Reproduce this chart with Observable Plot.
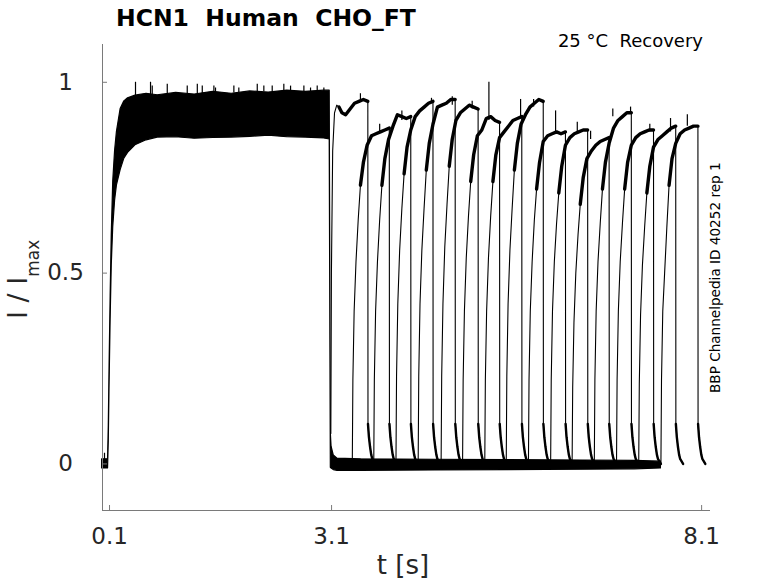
<!DOCTYPE html>
<html>
<head>
<meta charset="utf-8">
<script src="https://cdn.jsdelivr.net/npm/d3@7"></script>
<script src="https://cdn.jsdelivr.net/npm/@observablehq/plot@0.6"></script>
<style>
  html, body { margin: 0; padding: 0; background: #fff; overflow: hidden; }
  svg text { font-family: "DejaVu Sans", sans-serif; }
</style>
</head>
<body>
<div id="chart"></div>
<script>
// ---------------- data ----------------
const xTicks = [0.1, 3.1, 8.1];
const xTickLabels = ["0.1", "3.1", "8.1"];
const yTicks = [0, 0.5, 1];
const yTickLabels = ["0", "0.5", "1"];
const xDomain = [0.005, 8.22];
const yDomain = [-0.122, 1.099];

// envelope of the 16 overlapping sweeps: pre-pulse activation band + baseline band
const envT  = [0.0,   0.08,  0.09, 0.1,  0.115, 0.13, 0.15, 0.175, 0.2,  0.25,  0.3,  0.35,  0.45,  0.6,   0.75,  1.0,   1.25,  1.5,   1.75,  2.0,   2.25,  2.5,   2.75,  3.0,   3.075, 3.09,  3.1,   3.13,  3.18,  3.5,   4.5,   5.5,   6.5,   7.2,   7.55];
const envLo = [-0.012,-0.012, 0.06, 0.2,  0.38,  0.52, 0.62, 0.69,  0.73, 0.77,  0.80, 0.815, 0.835, 0.848, 0.855, 0.856, 0.852, 0.854, 0.855, 0.857, 0.86,  0.856, 0.855, 0.853, 0.85,  -0.01, -0.012,-0.016,-0.018,-0.018,-0.017,-0.016,-0.015,-0.014,-0.012];
const envHi = [0.012, 0.012, 0.1,  0.25, 0.44,  0.6,  0.74, 0.82,  0.87, 0.93,  0.95, 0.958, 0.965, 0.97,  0.966, 0.972, 0.968, 0.975, 0.97,  0.976, 0.973, 0.978, 0.975, 0.978, 0.978, 0.08,  0.045, 0.022, 0.014, 0.012, 0.011, 0.010, 0.009, 0.008, 0.006];

// noise spikes on top of the pre-pulse band
const preSpikeT    = [0.032, 0.451, 0.654, 0.677, 0.88, 1.15, 1.286, 1.353, 1.51, 1.532, 1.78, 1.847, 2.096, 2.185, 2.298, 2.455, 2.546, 2.726, 2.816, 2.906, 2.996];
const preSpikeBase = [0.0,   0.96,  0.965, 0.965, 0.97, 0.97, 0.97,  0.97,  0.972,0.972, 0.972,0.972, 0.975, 0.975, 0.975, 0.975, 0.975, 0.975, 0.975, 0.975, 0.975];
const preSpikePeak = [0.028, 1.0,   1.0,   0.99,  0.995,0.99, 0.995, 0.99,  0.99, 0.985, 0.99, 0.985, 0.995, 0.99,  0.99,  0.995, 0.99,  0.99,  0.985, 0.99,  0.985];

// recovery test pulses: onset of each sweep (s), fixed pulse length
const onsets = [3.09, 3.38, 3.67, 3.97, 4.27, 4.58, 4.87, 5.17, 5.46, 5.76, 6.06, 6.35, 6.65, 6.95, 7.25, 7.55];
const pulseDur = 0.5;
// sampling times after onset and the normalised current of each sweep at those times
const riseDt = [0, 0.008, 0.025, 0.05, 0.08, 0.11, 0.15, 0.2, 0.26, 0.32, 0.38, 0.44, 0.5];
const sweepI = [
  [0.08, 0.5,  0.82, 0.92, 0.94, 0.935, 0.92, 0.915, 0.93,  0.945, 0.95,  0.955, 0.95],
  [0,    0.22, 0.4,  0.53, 0.64, 0.73,  0.79, 0.835, 0.86,  0.865, 0.87,  0.875, 0.88],
  [0,    0.22, 0.4,  0.53, 0.64, 0.73,  0.8,  0.85,  0.885, 0.915, 0.91,  0.905, 0.91],
  [0,    0.23, 0.42, 0.56, 0.67, 0.76,  0.83, 0.875, 0.91,  0.925, 0.935, 0.945, 0.95],
  [0,    0.23, 0.42, 0.56, 0.67, 0.77,  0.84, 0.89,  0.935, 0.94,  0.945, 0.955, 0.955],
  [0,    0.23, 0.42, 0.57, 0.68, 0.78,  0.85, 0.9,   0.92,  0.93,  0.94,  0.935, 0.93],
  [0,    0.22, 0.4,  0.54, 0.65, 0.74,  0.81, 0.86,  0.875, 0.905, 0.91,  0.9,   0.895],
  [0,    0.22, 0.4,  0.54, 0.65, 0.74,  0.81, 0.855, 0.87,  0.885, 0.9,   0.905, 0.91],
  [0,    0.23, 0.42, 0.56, 0.67, 0.77,  0.84, 0.89,  0.915, 0.935, 0.945, 0.955, 0.95],
  [0,    0.22, 0.4,  0.53, 0.64, 0.72,  0.79, 0.845, 0.86,  0.865, 0.87,  0.865, 0.87],
  [0,    0.22, 0.4,  0.53, 0.63, 0.71,  0.78, 0.835, 0.855, 0.865, 0.87,  0.875, 0.875],
  [0,    0.2,  0.37, 0.5,  0.6,  0.68,  0.75, 0.8,   0.82,  0.835, 0.845, 0.85,  0.855],
  [0,    0.22, 0.4,  0.53, 0.63, 0.72,  0.79, 0.84,  0.88,  0.9,   0.91,  0.92,  0.92],
  [0,    0.22, 0.4,  0.53, 0.63, 0.72,  0.79, 0.835, 0.855, 0.865, 0.87,  0.875, 0.875],
  [0,    0.21, 0.39, 0.52, 0.62, 0.71,  0.78, 0.83,  0.85,  0.86,  0.87,  0.88,  0.885],
  [0,    0.22, 0.4,  0.5,  0.62, 0.73,  0.8,  0.84,  0.865, 0.875, 0.88,  0.885, 0.885]
];
// deactivation tail after the end of each test pulse
const tailDt = [0.002, 0.015, 0.03, 0.045, 0.06, 0.1];
const tailI  = [0.105, 0.07,  0.045, 0.025, 0.013, 0.0];

// noise spikes on the test-pulse plateaus
const testSpikeT    = [3.49, 3.75, 4.05, 4.45, 4.731, 5.0, 5.226, 5.654, 5.83, 6.127, 6.42, 6.6, 6.9, 7.14, 7.4, 7.68, 7.907];
const testSpikeBase = [0.95, 0.87, 0.9, 0.945, 0.94, 0.93, 0.9,   0.91,  0.935, 0.866, 0.87, 0.85, 0.91, 0.92, 0.87, 0.87, 0.885];
const testSpikePeak = [0.97, 0.89, 0.925, 0.958, 0.962, 0.95, 1.0,  0.955, 0.955, 0.925, 0.895, 0.872, 0.93, 0.935, 0.89, 0.905, 0.915];

// ---------------- tables built from the arrays ----------------
const envelope = envT.map((t, i) => ({t, lo: envLo[i], hi: envHi[i]}));
const spikes = preSpikeT.map((t, i) => ({t, base: preSpikeBase[i], peak: preSpikePeak[i]}))
  .concat(testSpikeT.map((t, i) => ({t, base: testSpikeBase[i], peak: testSpikePeak[i]})));

const full = [], plateau = [], tail = [];
onsets.forEach((t0, k) => {
  riseDt.forEach((d, i) => {
    const p = {k, t: t0 + d, I: sweepI[k][i]};
    full.push(p);
    if (d >= 0.11) plateau.push(p);
  });
  const tEnd = t0 + pulseDur;
  tailDt.forEach((d, i) => {
    const p = {k, t: tEnd + d, I: tailI[i]};
    full.push(p);
    tail.push(p);
  });
});

// ---------------- chart ----------------
const W = 778, H = 583;
const mL = 102, mR = 68, mT = 44, mB = 73;

const plot = Plot.plot({
  width: W,
  height: H,
  marginLeft: mL,
  marginRight: mR,
  marginTop: mT,
  marginBottom: mB,
  style: {fontFamily: "DejaVu Sans", fontSize: "23px", background: "#fff", overflow: "visible"},
  x: {domain: xDomain, label: null},
  y: {domain: yDomain, label: null},
  marks: [
    Plot.areaY(envelope, {x: "t", y1: "lo", y2: "hi", fill: "black", stroke: "black", strokeWidth: 1.2, curve: "linear"}),
    Plot.ruleX(spikes, {x: "t", y1: "base", y2: "peak", stroke: "black", strokeWidth: 1.2}),
    Plot.line(full, {x: "t", y: "I", z: "k", stroke: "black", strokeWidth: 1.1, curve: "linear"}),
    Plot.line(plateau, {x: "t", y: "I", z: "k", stroke: "black", strokeWidth: 3.4, curve: "linear"}),
    Plot.line(tail, {x: "t", y: "I", z: "k", stroke: "black", strokeWidth: 2.4, curve: "linear"}),
    // axis lines
    Plot.ruleX([xDomain[0]], {stroke: "#7a7a7a", strokeWidth: 1}),
    Plot.ruleY([yDomain[0]], {stroke: "#7a7a7a", strokeWidth: 1}),
    // inward ticks
    Plot.axisX({ticks: xTicks, tickSize: 5, dy: -5, tickFormat: () => "", label: null, color: "#7a7a7a"}),
    Plot.axisY({ticks: yTicks, tickSize: 5, dx: 5, tickFormat: () => "", label: null, color: "#7a7a7a"}),
    // tick labels
    Plot.axisX({ticks: xTicks, tickSize: 0, tickPadding: 17, label: null, color: "#262626", fontSize: 23,
      tickFormat: d => xTickLabels[xTicks.indexOf(d)]}),
    Plot.axisY({ticks: yTicks, tickSize: 0, tickPadding: 37, textAnchor: "middle", label: null, color: "#262626", fontSize: 23,
      tickFormat: d => yTickLabels[yTicks.indexOf(d)]})
  ]
});

document.getElementById("chart").appendChild(plot);
const svg = d3.select(plot);

svg.append("text")
  .attr("x", 116).attr("y", 26)
  .attr("text-anchor", "start")
  .attr("font-size", 23.5).attr("font-weight", "bold").attr("fill", "#000")
  .style("white-space", "pre")
  .text("HCN1  Human  CHO_FT");

svg.append("text")
  .attr("x", 703).attr("y", 47)
  .attr("text-anchor", "end")
  .attr("font-size", 18).attr("fill", "#000")
  .style("white-space", "pre")
  .text("25 °C  Recovery");

const yl = svg.append("text")
  .attr("transform", "translate(27,319) rotate(-90)")
  .attr("text-anchor", "start")
  .attr("font-size", 27).attr("fill", "#262626")
  .style("white-space", "pre");
yl.append("tspan").text("I / I");
yl.append("tspan").attr("font-size", 17).attr("dy", 12).text("max");

svg.append("text")
  .attr("x", 403).attr("y", 574)
  .attr("text-anchor", "middle")
  .attr("font-size", 26).attr("fill", "#262626")
  .text("t [s]");

svg.append("text")
  .attr("transform", "translate(720,393) rotate(-90)")
  .attr("text-anchor", "start")
  .attr("font-size", 13.6).attr("fill", "#000")
  .text("BBP Channelpedia ID 40252 rep 1");
</script>
</body>
</html>
